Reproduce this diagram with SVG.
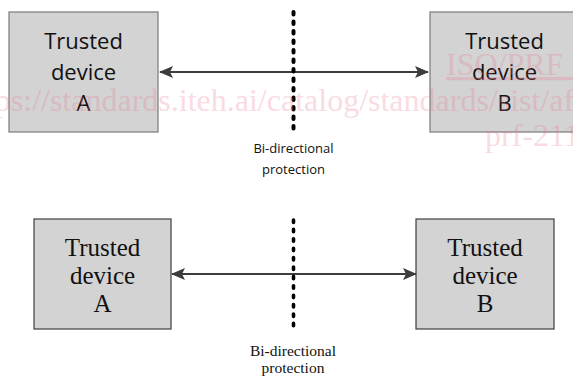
<svg xmlns="http://www.w3.org/2000/svg" width="573" height="378" viewBox="0 0 573 378">
  <defs>
    <style>
      .box1 { fill: #d3d3d3; stroke: #7a7a7a; stroke-width: 1.2; }
      .box2 { fill: #d3d3d3; stroke: #3f3f3f; stroke-width: 1.2; }
      .sans { font-family: "Open Sans", "Noto Sans", sans-serif; fill: #111; text-anchor: middle; }
      .serif { font-family: "Liberation Serif", "DejaVu Serif", serif; fill: #111; text-anchor: middle; }
      .big1 { font-size: 22px; }
      .big2 { font-size: 25px; }
      .conn { stroke: #3d3d3d; stroke-width: 2; fill: none; }
      .sep { stroke: #000; stroke-width: 4; stroke-linecap: round; fill: none; }
      .wm { font-family: "Liberation Serif", serif; font-size: 32px; fill: #e8738c; opacity: 0.25; }
    </style>
    <marker id="ah" viewBox="0 0 14 12" refX="13" refY="6" markerWidth="14" markerHeight="12" markerUnits="userSpaceOnUse" orient="auto-start-reverse">
      <path d="M0,0 L14,6 L0,12 L3,6 Z" fill="#3d3d3d"/>
    </marker>
  </defs>

  <!-- Top diagram -->
  <g id="top-device-a">
    <rect class="box1" x="9" y="12" width="149" height="120"/>
    <text class="sans big1" x="83.5" y="49">Trusted</text>
    <text class="sans big1" x="83.5" y="80">device</text>
    <text class="sans big1" x="83.5" y="111">A</text>
  </g>
  <g id="top-device-b">
    <rect class="box1" x="430" y="12" width="149" height="120"/>
    <text class="sans big1" x="504.5" y="49">Trusted</text>
    <text class="sans big1" x="504.5" y="80">device</text>
    <text class="sans big1" x="504.5" y="111">B</text>
  </g>
  <g id="top-protection">
    <text class="sans" style="font-size:13px" x="293.5" y="153">Bi-directional</text>
    <text class="sans" style="font-size:13px" x="293.5" y="174">protection</text>
  </g>

  <!-- Bottom diagram -->
  <g id="bottom-device-a">
    <rect class="box2" x="34" y="219" width="137" height="110"/>
    <text class="serif big2" x="102.5" y="256">Trusted</text>
    <text class="serif big2" x="102.5" y="284">device</text>
    <text class="serif big2" x="102.5" y="312">A</text>
  </g>
  <g id="bottom-device-b">
    <rect class="box2" x="416" y="219" width="138" height="110"/>
    <text class="serif big2" x="485" y="256">Trusted</text>
    <text class="serif big2" x="485" y="284">device</text>
    <text class="serif big2" x="485" y="312">B</text>
  </g>
  <g id="bottom-protection">
    <text class="serif" style="font-size:15.5px" x="293" y="356">Bi-directional</text>
    <text class="serif" style="font-size:15.5px" x="293" y="373">protection</text>
  </g>

  <g id="connectors">
    <line class="conn" x1="160" y1="72" x2="428" y2="72" marker-start="url(#ah)" marker-end="url(#ah)"/>
    <line class="sep" x1="293.5" y1="12" x2="293.5" y2="132" stroke-dasharray="2.5 7"/>
    <line class="conn" x1="172" y1="274" x2="416" y2="274" marker-start="url(#ah)" marker-end="url(#ah)"/>
    <line class="sep" x1="293.5" y1="220" x2="293.5" y2="328" style="stroke-width:3.6" stroke-dasharray="2.4 7"/>
  </g>

  <g id="watermark">
    <text class="wm" x="446" y="75" text-decoration="underline">ISO/PRF 2</text>
    <text class="wm" x="-39" y="111">https://standards.iteh.ai/catalog/standards/sist/af</text>
    <text class="wm" x="485" y="146">prf-211</text>
  </g>
</svg>
